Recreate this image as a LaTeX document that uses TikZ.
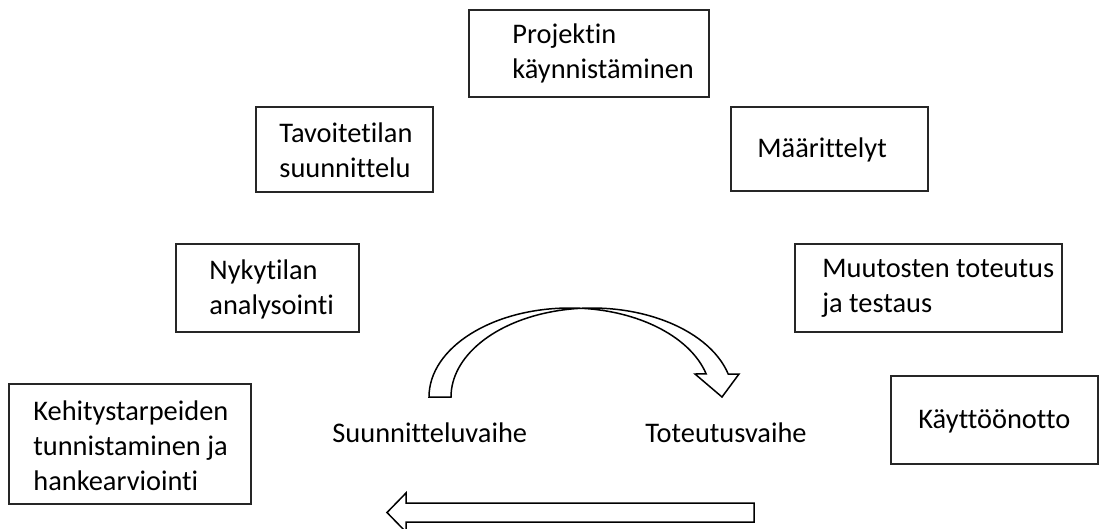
\documentclass[tikz,border=0pt]{standalone}
\usepackage{fontspec}
\setmainfont{Carlito}[Ligatures=NoCommon]
\usetikzlibrary{fit}
\begin{document}
\begin{tikzpicture}[x=0.5pt,y=0.5pt,
  box/.style={draw=black!85, line width=0.75pt, inner sep=0pt},
  txt/.style={inner sep=0pt, align=left, anchor=west, font=\fontsize{14.2}{17.5}\selectfont},
  blockarrow/.style={draw=black, line width=0.75pt, line join=miter, fill=white}]
\useasboundingbox (0,0) rectangle (1101,-529);
\clip (0,0) rectangle (1101,-529);
% boxes
\node[box, fit={(469,-10) (709,-97)}] (p) {};
\node[box, fit={(731,-107) (928,-191)}] (m) {};
\node[box, fit={(256,-107) (433,-192)}] (t) {};
\node[box, fit={(176,-244) (359,-332)}] (n) {};
\node[box, fit={(795,-244) (1062,-332)}] (mu) {};
\node[box, fit={(891,-376) (1098,-464)}] (k) {};
\node[box, fit={(9,-384) (251,-504)}] (ke) {};
% texts
\node[txt] (pt) at (512,-53.5) {Projektin\\käynnistäminen};
\node[txt] (mt) at (757,-150) {Määrittelyt};
\node[txt] (tt) at (279,-150) {Tavoitetilan\\suunnittelu};
\node[txt] (nt) at (209,-289) {Nykytilan\\analysointi};
\node[txt] (mut) at (822,-288.5) {Muutosten toteutus\\ja testaus};
\node[txt] (kt) at (918,-421) {Käyttöönotto};
\node[txt] (ket) at (33,-446) {Kehitystarpeiden\\tunnistaminen ja\\hankearviointi};
\node[txt] (sv) at (332,-433) {Suunnitteluvaihe};
\node[txt] (tv) at (645,-433) {Toteutusvaihe};
% curved arrow
\path[blockarrow] (429,-397) arc[start angle=180, end angle=15, x radius=141, y radius=89]
  -- (695,-374) -- (722,-397) -- (739,-374) -- (728.2,-374)
  arc[start angle=15, end angle=180, x radius=141, y radius=89] -- cycle;
% straight arrow
\path[blockarrow] (754,-503) -- (406,-503) -- (406,-493) -- (387,-512.5) -- (406,-532)
  -- (406,-522) -- (754,-522) -- cycle;
\end{tikzpicture}
\end{document}
